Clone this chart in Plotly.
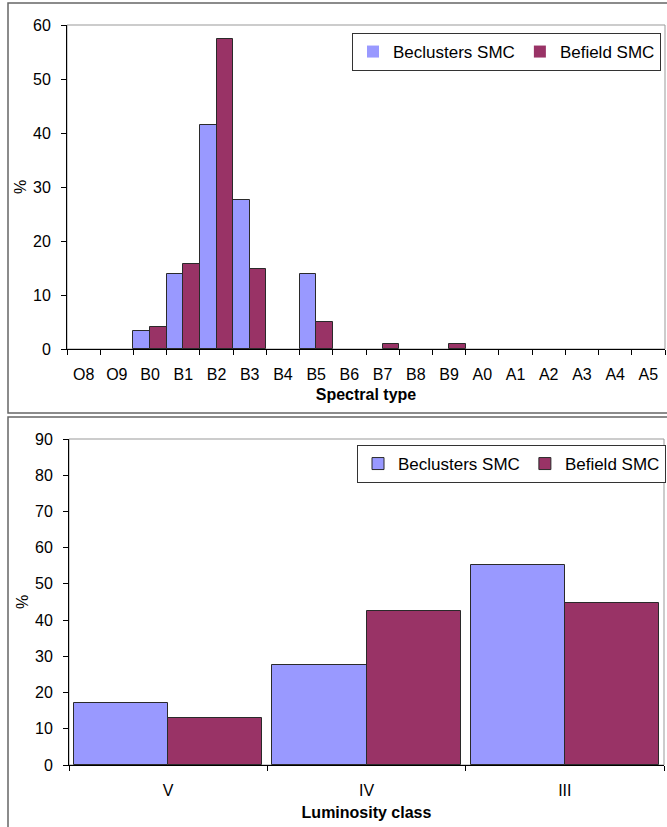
import plotly.graph_objects as go
from plotly.subplots import make_subplots

# ── Data ──────────────────────────────────────────────────────────────────────
spectral_types = ["O8", "O9", "B0", "B1", "B2", "B3", "B4", "B5", "B6",
                  "B7", "B8", "B9", "A0", "A1", "A2", "A3", "A4", "A5"]
spec_clusters = [0, 0, 3.4, 13.8, 41.4, 27.6, 0, 13.8, 0, 0, 0, 0, 0, 0, 0, 0, 0, 0]
spec_field = [0, 0, 4.0, 15.8, 57.4, 14.9, 0, 5.0, 0, 1.0, 0, 1.0, 0, 0, 0, 0, 0, 0]

lum_classes = ["V", "IV", "III"]
lum_clusters = [17.2, 27.6, 55.2]
lum_field = [12.9, 42.5, 44.6]

BLUE = "#9999FF"
RED = "#993366"
FONT = "Liberation Sans, Arial, sans-serif"

W, H = 667, 827

def px_x(p):
    return p / W

def px_y(p):
    return 1 - p / H

def outline(vals):
    # empty categories get no outline so no flat line is drawn on the axis
    return dict(color="#2a2a2a", width=[1 if v > 0 else 0 for v in vals])

fig = make_subplots(rows=2, cols=1)

# ── Top: spectral type ───────────────────────────────────────────────────────
fig.add_trace(go.Bar(x=spectral_types, y=spec_clusters, name="Beclusters SMC",
                     marker=dict(color=BLUE, line=outline(spec_clusters)),
                     legend="legend"), row=1, col=1)
fig.add_trace(go.Bar(x=spectral_types, y=spec_field, name="Befield SMC",
                     marker=dict(color=RED, line=outline(spec_field)),
                     legend="legend"), row=1, col=1)

# ── Bottom: luminosity class ─────────────────────────────────────────────────
fig.add_trace(go.Bar(x=lum_classes, y=lum_clusters, name="Beclusters SMC",
                     marker=dict(color=BLUE, line=outline(lum_clusters)),
                     legend="legend2", width=0.475, offset=-0.475), row=2, col=1)
fig.add_trace(go.Bar(x=lum_classes, y=lum_field, name="Befield SMC",
                     marker=dict(color=RED, line=outline(lum_field)),
                     legend="legend2", width=0.475, offset=0), row=2, col=1)

axis_common = dict(showgrid=False, zeroline=False, showline=True, linecolor="#000",
                   linewidth=1, ticks="outside", ticklen=5, tickcolor="#000",
                   automargin=False,
                   tickfont=dict(size=16, color="#000", family=FONT))

fig.update_xaxes(**axis_common, tickson="boundaries", ticklabelstandoff=11)
fig.update_yaxes(**axis_common, ticklabelstandoff=7)

title_font = dict(size=16, family=FONT, color="#000")
legend_common = dict(orientation="h", xanchor="right", yanchor="top",
                     bordercolor="#333", borderwidth=1, bgcolor="white",
                     font=dict(size=17, family=FONT), itemwidth=30, tracegroupgap=0)

fig.update_layout(
    xaxis=dict(domain=[px_x(67), px_x(665)],
               title=dict(text="<b>Spectral type</b>", standoff=6, font=title_font)),
    yaxis=dict(domain=[px_y(349), px_y(25)], range=[0, 60], dtick=10,
               title=dict(text="%", standoff=2, font=title_font)),
    xaxis2=dict(domain=[px_x(69), px_x(664)],
                title=dict(text="<b>Luminosity class</b>", standoff=8, font=title_font)),
    yaxis2=dict(domain=[px_y(765), px_y(439)], range=[0, 90], dtick=10,
                title=dict(text="%", standoff=2, font=title_font)),
    barmode="group",
    bargap=0,
    bargroupgap=0,
    width=W, height=H,
    margin=dict(l=0, r=0, t=0, b=0),
    plot_bgcolor="white", paper_bgcolor="white",
    font=dict(family=FONT, color="#000"),
    legend=dict(legend_common, x=px_x(661), y=px_y(33)),
    legend2=dict(legend_common, x=px_x(666), y=px_y(445)),
)

# plot-area frames (gray top/right) and panel borders
shapes = [
    dict(type="rect", xref="x domain", yref="y domain", x0=0, x1=1, y0=0, y1=1,
         line=dict(color="#999", width=1), layer="below"),
    dict(type="rect", xref="x2 domain", yref="y2 domain", x0=0, x1=1, y0=0, y1=1,
         line=dict(color="#999", width=1), layer="below"),
    dict(type="rect", xref="paper", yref="paper", x0=px_x(8), x1=px_x(668),
         y0=px_y(413), y1=px_y(3), line=dict(color="#666", width=1.5)),
    dict(type="rect", xref="paper", yref="paper", x0=px_x(8), x1=px_x(668),
         y0=px_y(830), y1=px_y(417), line=dict(color="#666", width=1.5)),
]
fig.update_layout(shapes=shapes)

fig.write_html("out.html", config={"displayModeBar": False},
               post_script="document.body.style.margin='0px';")
